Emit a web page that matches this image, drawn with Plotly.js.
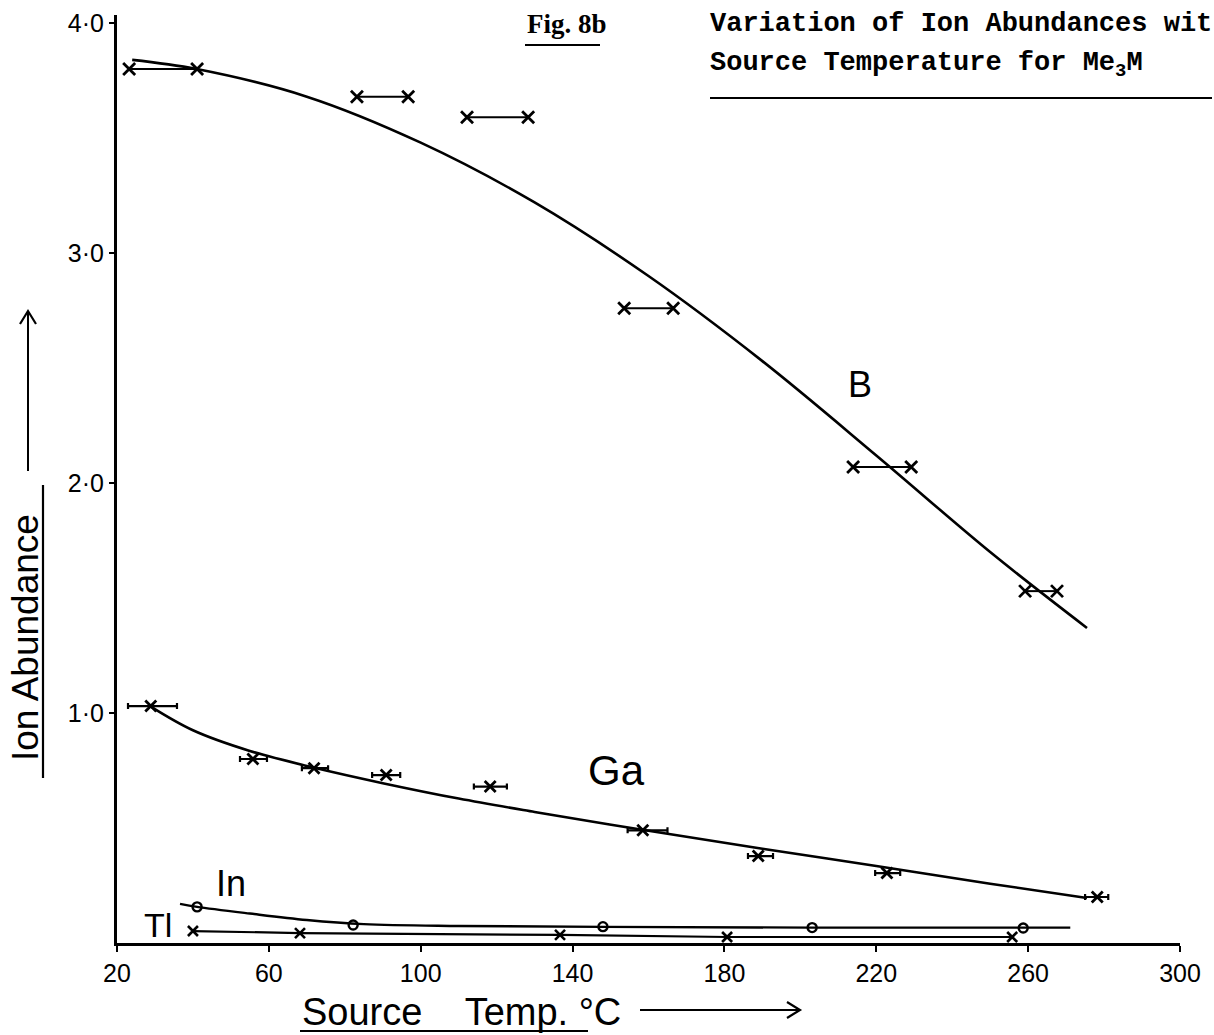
<!DOCTYPE html>
<html>
<head>
<meta charset="utf-8">
<script src="https://cdn.plot.ly/plotly-3.0.1.min.js"></script>
<style>html,body{margin:0;padding:0;background:#fff;}</style>
</head>
<body>
<div id="chart" style="width:1214px;height:1035px;"></div>
<script>
// ---- Data ----
// B: temperature ranges (low/high ends marked with x) and ion abundance
const bLo = [23.2, 83.2, 112.2, 153.6, 213.9, 259.2];
const bHi = [41.1, 96.7, 128.3, 166.5, 229.2, 267.6];
const bY  = [3.80, 3.68, 3.59, 2.76, 2.07, 1.53];
// B: hand-drawn smooth curve
const bCurveX = [24, 41, 70, 100, 130, 160, 190, 220, 250, 275.5];
const bCurveY = [3.84, 3.80, 3.68, 3.48, 3.22, 2.90, 2.53, 2.12, 1.70, 1.37];

// Ga: points with small temperature error bars
const gaX  = [28.9, 55.8, 71.9, 90.9, 118.3, 158.5, 188.9, 222.8, 278.2];
const gaLo = [22.9, 52.4, 68.7, 87.2, 114.0, 154.5, 186.2, 219.7, 275.0];
const gaHi = [35.8, 59.5, 75.6, 94.6, 122.7, 165.0, 192.8, 226.3, 281.1];
const gaY  = [1.03, 0.80, 0.76, 0.73, 0.68, 0.49, 0.378, 0.304, 0.20];
const gaCurveX = [28.7, 40, 55, 72, 90, 110, 130, 160, 190, 220, 250, 275.5];
const gaCurveY = [1.03, 0.925, 0.835, 0.762, 0.695, 0.628, 0.570, 0.488, 0.410, 0.335, 0.258, 0.196];

// In: circles and curve
const inX = [41.1, 82.2, 148.0, 203.1, 258.7];
const inY = [0.157, 0.078, 0.071, 0.067, 0.065];
const inCurveX = [36.6, 41.1, 55, 70, 85, 110, 148.0, 203.1, 271.1];
const inCurveY = [0.170, 0.157, 0.128, 0.100, 0.082, 0.074, 0.070, 0.067, 0.067];

// Tl: crosses joined by a line
const tlX = [40.0, 68.2, 136.7, 180.7, 255.8];
const tlY = [0.052, 0.043, 0.035, 0.026, 0.026];

// Axis ticks
const xTickVals = [20, 60, 100, 140, 180, 220, 260, 300];
const yTickVals = [1, 2, 3, 4];
const yTickText = ['1·0', '2·0', '3·0', '4·0'];

// ---- Build traces ----
const bRangeX = [], bRangeY = [];
bLo.forEach((lo, i) => { bRangeX.push(lo, bHi[i], null); bRangeY.push(bY[i], bY[i], null); });

const ink = '#000';
const traces = [
  { x: bCurveX, y: bCurveY, mode: 'lines', line: { color: ink, width: 2.6, shape: 'spline', smoothing: 1 }, hoverinfo: 'skip' },
  { x: bRangeX, y: bRangeY, mode: 'lines+markers', connectgaps: false,
    line: { color: ink, width: 2 },
    marker: { symbol: 'x-thin', size: 12, line: { color: ink, width: 2.8 } } },
  { x: gaCurveX, y: gaCurveY, mode: 'lines', line: { color: ink, width: 2.6, shape: 'spline', smoothing: 1 }, hoverinfo: 'skip' },
  { x: gaX, y: gaY, mode: 'markers',
    marker: { symbol: 'x-thin', size: 11, line: { color: ink, width: 2.8 } },
    error_x: { type: 'data', symmetric: false,
      array: gaHi.map((h, i) => h - gaX[i]), arrayminus: gaLo.map((l, i) => gaX[i] - l),
      color: ink, thickness: 2.2, width: 3 } },
  { x: inCurveX, y: inCurveY, mode: 'lines', line: { color: ink, width: 2.4, shape: 'spline', smoothing: 1 }, hoverinfo: 'skip' },
  { x: inX, y: inY, mode: 'markers', marker: { symbol: 'circle-open', size: 9, color: ink, line: { color: ink, width: 2.4 } } },
  { x: tlX, y: tlY, mode: 'lines+markers', line: { color: ink, width: 2.2 },
    marker: { symbol: 'x-thin', size: 10, line: { color: ink, width: 2.6 } } }
];

// pixel -> paper helpers for page furniture
const L = 117, R = 1180, T = 15, B = 943;
const px = v => (v - L) / (R - L);
const py = v => (B - v) / (B - T);

const hand = 'Liberation Sans, Arial, sans-serif';
const typeFont = 'Liberation Mono, Courier New, monospace';
const nb = '\u00A0';

const layout = {
  width: 1214, height: 1035,
  margin: { l: L, r: 1214 - R, t: T, b: 1035 - B },
  paper_bgcolor: '#fff', plot_bgcolor: '#fff',
  showlegend: false,
  xaxis: {
    range: [20, 300], tickvals: xTickVals, ticktext: xTickVals.map(String),
    showline: true, linecolor: ink, linewidth: 3, mirror: false,
    ticks: 'outside', ticklen: 6, tickwidth: 2, tickcolor: ink,
    showgrid: false, zeroline: false,
    tickfont: { family: hand, size: 25, color: ink }
  },
  yaxis: {
    range: [0, 4.035], tickvals: yTickVals, ticktext: yTickText,
    showline: true, linecolor: ink, linewidth: 3,
    ticks: 'outside', ticklen: 5, tickwidth: 2, tickcolor: ink,
    showgrid: false, zeroline: false,
    tickfont: { family: hand, size: 25, color: ink }
  },
  annotations: [
    // series labels
    { x: 215.8, y: 2.43, xref: 'x', yref: 'y', text: 'B', showarrow: false, font: { family: hand, size: 36, color: ink } },
    { x: 151.5, y: 0.75, xref: 'x', yref: 'y', text: 'Ga', showarrow: false, font: { family: hand, size: 42, color: ink } },
    { x: 50.0, y: 0.26, xref: 'x', yref: 'y', text: 'In', showarrow: false, font: { family: hand, size: 36, color: ink } },
    { x: 30.8, y: 0.08, xref: 'x', yref: 'y', text: 'Tl', showarrow: false, font: { family: hand, size: 34, color: ink } },
    // figure caption
    { x: px(525), y: py(24), xref: 'paper', yref: 'paper', xanchor: 'left', yanchor: 'middle', showarrow: false,
      text: 'Fig. 8b', font: { family: 'Liberation Serif, serif', size: 27, color: ink, weight: 700 } },
    { x: px(708), y: py(24), xref: 'paper', yref: 'paper', xanchor: 'left', yanchor: 'middle', showarrow: false,
      text: 'Variation of Ion Abundances wit', font: { family: typeFont, size: 27, color: ink, weight: 700 } },
    { x: px(708), y: py(65), xref: 'paper', yref: 'paper', xanchor: 'left', yanchor: 'middle', showarrow: false,
      text: 'Source Temperature for Me<sub>3</sub>M', font: { family: typeFont, size: 27, color: ink, weight: 700 } },
    // axis titles
    { x: px(300), y: py(1012), xref: 'paper', yref: 'paper', xanchor: 'left', yanchor: 'middle', showarrow: false,
      text: 'Source' + nb + nb + nb + nb + 'Temp.' + nb + '°C', font: { family: hand, size: 38, color: ink } },
    { x: px(25), y: py(638), xref: 'paper', yref: 'paper', xanchor: 'center', yanchor: 'middle', showarrow: false,
      textangle: -90, text: 'Ion Abundance', font: { family: hand, size: 37, color: ink } }
  ],
  shapes: [
    // underlines
    { type: 'line', xref: 'paper', yref: 'paper', x0: px(525), x1: px(600), y0: py(45), y1: py(45), line: { color: ink, width: 2 } },
    { type: 'line', xref: 'paper', yref: 'paper', x0: px(710), x1: px(1212), y0: py(98), y1: py(98), line: { color: ink, width: 2 } },
    { type: 'line', xref: 'paper', yref: 'paper', x0: px(300), x1: px(588), y0: py(1031), y1: py(1031), line: { color: ink, width: 2 } },
    { type: 'line', xref: 'paper', yref: 'paper', x0: px(43), x1: px(43), y0: py(485), y1: py(778), line: { color: ink, width: 2.2 } },
    // x-title arrow
    { type: 'line', xref: 'paper', yref: 'paper', x0: px(640), x1: px(799), y0: py(1010), y1: py(1010), line: { color: ink, width: 2 } },
    { type: 'path', xref: 'paper', yref: 'paper',
      path: `M${px(787)},${py(1002)} L${px(800)},${py(1010)} L${px(787)},${py(1018)}`, line: { color: ink, width: 2.2 } },
    // y-title arrow
    { type: 'line', xref: 'paper', yref: 'paper', x0: px(28), x1: px(28), y0: py(471), y1: py(312), line: { color: ink, width: 2 } },
    { type: 'path', xref: 'paper', yref: 'paper',
      path: `M${px(20)},${py(324)} L${px(28)},${py(311)} L${px(36)},${py(324)}`, line: { color: ink, width: 2.2 } }
  ]
};

Plotly.newPlot('chart', traces, layout, { displayModeBar: false, staticPlot: true });
</script>
</body>
</html>
